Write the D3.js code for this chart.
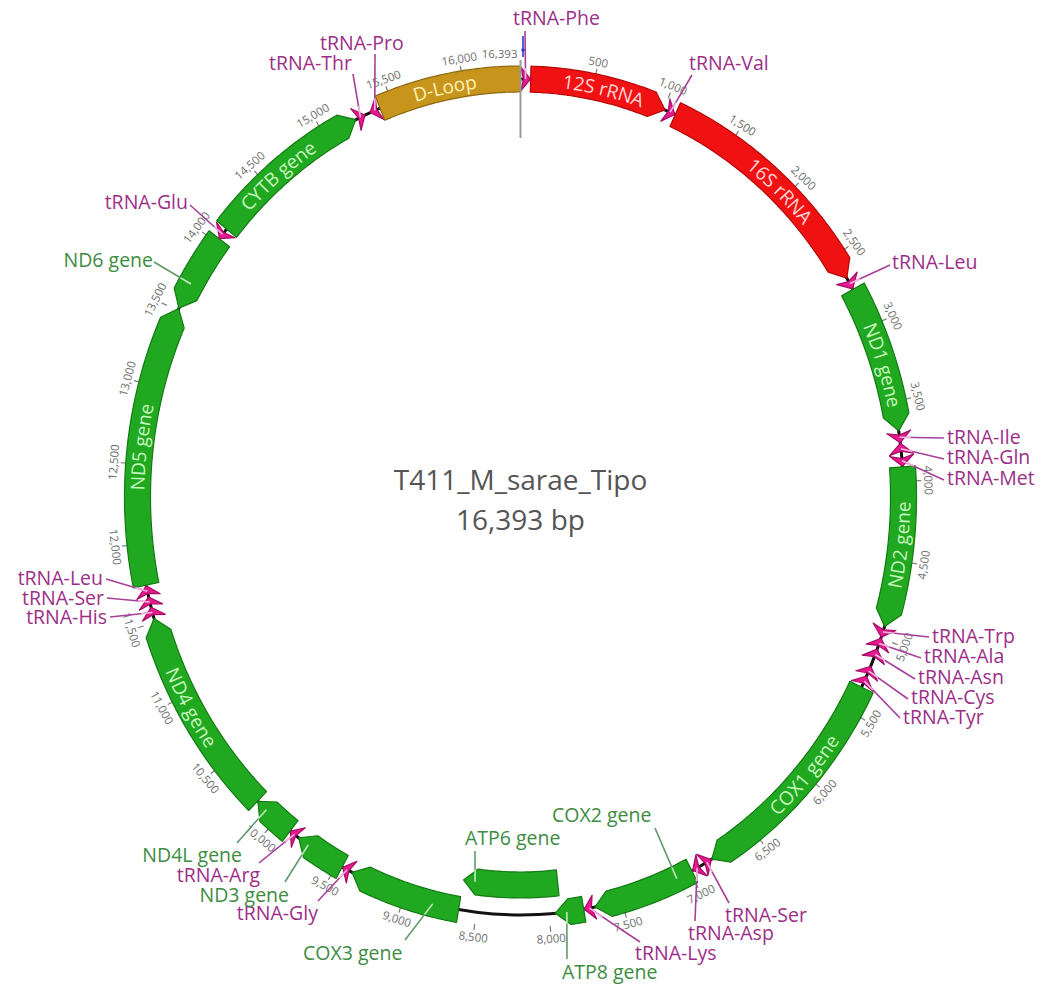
<!DOCTYPE html>
<html>
<head>
<meta charset="utf-8">
<script src="https://cdn.jsdelivr.net/npm/d3@7"></script>
<style>
  html, body { margin: 0; padding: 0; background: #ffffff; }
  svg { display: block; font-family: "Open Sans", "Noto Sans", sans-serif; }
</style>
</head>
<body>
<svg id="map" width="1043" height="985"></svg>
<script>
// ---- sequence ----
const sequenceName = "T411_M_sarae_Tipo";
const sequenceLength = 16393;

// ---- annotated features (bp, 1-based) ----
const featureIds = [
  "trnF", "rrnS", "trnV", "rrnL", "trnL2", "nad1", "trnI", "trnQ", "trnM", "nad2",
  "trnW", "trnA", "trnN", "trnC", "trnY", "cox1", "trnS2", "trnD", "cox2", "trnK",
  "atp8", "atp6", "cox3", "trnG", "nad3", "trnR", "nad4l", "nad4", "trnH", "trnS1",
  "trnL1", "nad5", "nad6", "trnE", "cob", "trnT", "trnP", "dloop"
];
const featureNames = [
  "tRNA-Phe", "12S rRNA", "tRNA-Val", "16S rRNA", "tRNA-Leu", "ND1 gene", "tRNA-Ile", "tRNA-Gln", "tRNA-Met", "ND2 gene",
  "tRNA-Trp", "tRNA-Ala", "tRNA-Asn", "tRNA-Cys", "tRNA-Tyr", "COX1 gene", "tRNA-Ser", "tRNA-Asp", "COX2 gene", "tRNA-Lys",
  "ATP8 gene", "ATP6 gene", "COX3 gene", "tRNA-Gly", "ND3 gene", "tRNA-Arg", "ND4L gene", "ND4 gene", "tRNA-His", "tRNA-Ser",
  "tRNA-Leu", "ND5 gene", "ND6 gene", "tRNA-Glu", "CYTB gene", "tRNA-Thr", "tRNA-Pro", "D-Loop"
];
const featureStarts = [
  1, 69, 1012, 1085, 2662, 2742, 3690, 3762, 3838, 3910,
  4922, 4998, 5070, 5186, 5254, 5330, 6836, 6912, 6986, 7690,
  7764, 7921, 8620, 9388, 9460, 9811, 9880, 10170, 11530, 11600,
  11667, 11740, 13518, 14034, 14110, 15234, 15340, 15413
];
const featureEnds = [
  68, 1010, 1082, 2660, 2738, 3684, 3758, 3832, 3906, 4920,
  4990, 5066, 5142, 5252, 5322, 6832, 6906, 6980, 7686, 7760,
  7960, 8620, 9385, 9456, 9808, 9878, 10168, 11525, 11598, 11665,
  11736, 13515, 14032, 14102, 15232, 15302, 15410, 16393
];
const featureStrands = [
  1, 1, 1, 1, 1, 1, 1, -1, 1, 1,
  1, -1, -1, -1, -1, 1, -1, 1, 1, 1,
  1, 1, 1, 1, 1, 1, 1, 1, 1, 1,
  1, 1, -1, -1, 1, 1, -1, 0
];
const featureKinds = [
  "tRNA", "rRNA", "tRNA", "rRNA", "tRNA", "gene", "tRNA", "tRNA", "tRNA", "gene",
  "tRNA", "tRNA", "tRNA", "tRNA", "tRNA", "gene", "tRNA", "tRNA", "gene", "tRNA",
  "gene", "gene", "gene", "tRNA", "gene", "tRNA", "gene", "gene", "tRNA", "tRNA",
  "tRNA", "gene", "gene", "tRNA", "gene", "tRNA", "tRNA", "misc"
];
// 0 = main ring, 1 = inner lane for overlapping features
const featureTracks = [
  0, 0, 0, 0, 0, 0, 0, 0, 0, 0,
  0, 0, 0, 0, 0, 0, 0, 0, 0, 0,
  0, 1, 0, 0, 0, 0, 0, 0, 0, 0,
  0, 0, 0, 0, 0, 0, 0, 0
];

// ---- ruler ----
const tickValues = [
  500, 1000, 1500, 2000, 2500, 3000, 3500, 4000, 4500, 5000, 5500, 6000, 6500, 7000, 7500, 8000,
  8500, 9000, 9500, 10000, 10500, 11000, 11500, 12000, 12500, 13000, 13500, 14000, 14500, 15000, 15500, 16000
];

// features whose names are written inside the arrow
const innerLabelled = ["rrnS", "rrnL", "nad1", "nad2", "cox1", "nad4", "nad5", "cob", "dloop"];

// callout placement: text anchor point, leader start, optional leader target (bp)
const calloutLayout = {
  trnF:  { x: 513, y: 18,  anchor: "start", lx: 525, ly: 31 },
  trnV:  { x: 689, y: 63,  anchor: "start", lx: 692, ly: 75 },
  trnL2: { x: 892, y: 262, anchor: "start", lx: 890, ly: 265 },
  trnI:  { x: 947, y: 437, anchor: "start", lx: 944, ly: 438 },
  trnQ:  { x: 947, y: 457, anchor: "start", lx: 944, ly: 459 },
  trnM:  { x: 947, y: 478, anchor: "start", lx: 944, ly: 480 },
  trnW:  { x: 932, y: 636, anchor: "start", lx: 929, ly: 637 },
  trnA:  { x: 924, y: 656, anchor: "start", lx: 921, ly: 658 },
  trnN:  { x: 918, y: 677, anchor: "start", lx: 915, ly: 679 },
  trnC:  { x: 911, y: 697, anchor: "start", lx: 908, ly: 699 },
  trnY:  { x: 903, y: 717, anchor: "start", lx: 900, ly: 718 },
  trnS2: { x: 725, y: 915, anchor: "start", lx: 729, ly: 903 },
  trnD:  { x: 688, y: 933, anchor: "start", lx: 695, ly: 921 },
  trnK:  { x: 635, y: 953, anchor: "start", lx: 640, ly: 942 },
  cox2:  { x: 552, y: 815, anchor: "start", lx: 655, ly: 828, bp: 7100 },
  atp6:  { x: 465, y: 838, anchor: "start", lx: 475, ly: 851, bp: 8533 },
  atp8:  { x: 562, y: 972, anchor: "start", lx: 567, ly: 959, bp: 7880 },
  cox3:  { x: 303, y: 953, anchor: "start", lx: 405, ly: 940, bp: 8800 },
  trnG:  { x: 318, y: 913, anchor: "end",   lx: 318, ly: 901 },
  nad3:  { x: 289, y: 895, anchor: "end",   lx: 285, ly: 882, bp: 9730 },
  trnR:  { x: 260, y: 875, anchor: "end",   lx: 259, ly: 863 },
  nad4l: { x: 242, y: 855, anchor: "end",   lx: 237, ly: 843, bp: 10090 },
  trnH:  { x: 107, y: 617, anchor: "end",   lx: 110, ly: 617 },
  trnS1: { x: 104, y: 598, anchor: "end",   lx: 107, ly: 598 },
  trnL1: { x: 103, y: 578, anchor: "end",   lx: 106, ly: 579 },
  nad6:  { x: 153, y: 260, anchor: "end",   lx: 154, ly: 262, bp: 13690 },
  trnE:  { x: 188, y: 202, anchor: "end",   lx: 190, ly: 205 },
  trnT:  { x: 352, y: 63,  anchor: "end",   lx: 353, ly: 74 },
  trnP:  { x: 320, y: 43,  anchor: "start", lx: 375, ly: 54 }
};

// ---- styles ----
const fillByKind   = { gene: "#21a821", rRNA: "#f01212", tRNA: "#e8188f", misc: "#c8951c" };
const strokeByKind = { gene: "#137a13", rRNA: "#b40808", tRNA: "#a50d66", misc: "#8c6812" };
const innerTextByKind = { gene: "#c6f7bc", rRNA: "#ffd4d4", misc: "#fff0b6" };
const calloutColor = { gene: "#3d8c42", tRNA: "#9c2e88" };
const leaderColor  = { gene: "#5f9a68", tRNA: "#a6409a" };
const leaderInner  = { gene: "#b8ecb2", tRNA: "#f6b6de" };

// ---- geometry ----
const cx = 520.5, cy = 497, rx = 383, ry = 418;
const bandHalf = 13, trnaHalf = 12;
const trackOffset = [0, -30];
const angle = d3.scaleLinear().domain([0, sequenceLength]).range([0, 2 * Math.PI]);
const pxPerBp = 2 * Math.PI * 400 / sequenceLength;

function pt(bp, d) {
  const a = angle(bp);
  return [cx + (rx + d) * Math.sin(a), cy - (ry + d) * Math.cos(a)];
}
function arcPts(b0, b1, d) {
  const n = Math.max(2, Math.ceil(Math.abs(b1 - b0) * pxPerBp / 3));
  return d3.range(n + 1).map(i => pt(b0 + (b1 - b0) * i / n, d));
}
function offsetOf(x, y) {
  // radial offset d of a point relative to the ring
  let lo = -150, hi = 150;
  for (let k = 0; k < 40; k++) {
    const m = (lo + hi) / 2;
    const v = ((x - cx) / (rx + m)) ** 2 + ((y - cy) / (ry + m)) ** 2;
    if (v > 1) lo = m; else hi = m;
  }
  return (lo + hi) / 2;
}

const features = featureIds.map((id, i) => ({
  id, name: featureNames[i], start: featureStarts[i], end: featureEnds[i],
  strand: featureStrands[i], kind: featureKinds[i], track: featureTracks[i]
}));
const byId = Object.fromEntries(features.map(f => [f.id, f]));

const line = d3.line();
function featurePath(f) {
  const off = trackOffset[f.track];
  if (f.kind === "tRNA") {
    const h = trnaHalf;
    const tail = f.strand < 0 ? f.end : f.start;
    const tip = f.strand < 0 ? f.start : f.end;
    const notch = tail + (tip - tail) * 0.3;
    return line([pt(tail, off + h), pt(tip, off), pt(tail, off - h), pt(notch, off)]) + "Z";
  }
  const h = bandHalf;
  if (f.strand === 0) {
    return line([...arcPts(f.start, f.end, off + h), ...arcPts(f.end, f.start, off - h)]) + "Z";
  }
  const headBp = Math.min(15 / pxPerBp, (f.end - f.start) * 0.6);
  if (f.strand > 0) {
    const hs = f.end - headBp;
    return line([...arcPts(f.start, hs, off + h), pt(f.end, off), ...arcPts(hs, f.start, off - h)]) + "Z";
  }
  const hs = f.start + headBp;
  return line([pt(f.start, off), ...arcPts(hs, f.end, off + h), ...arcPts(f.end, hs, off - h)]) + "Z";
}

const svg = d3.select("#map");
const defs = svg.append("defs");

// backbone
svg.append("ellipse")
  .attr("cx", cx).attr("cy", cy).attr("rx", rx).attr("ry", ry)
  .attr("fill", "none").attr("stroke", "#111").attr("stroke-width", 3);

// ruler ticks and labels
const fmt = d3.format(",");
const ruler = svg.append("g").attr("class", "ruler");
tickValues.forEach(v => {
  const [x1, y1] = pt(v, bandHalf - 1);
  const [x2, y2] = pt(v, bandHalf + 5);
  ruler.append("line").attr("x1", x1).attr("y1", y1).attr("x2", x2).attr("y2", y2)
    .attr("stroke", "#7a7a7a").attr("stroke-width", 1.2);
  const [tx, ty] = pt(v, bandHalf + 12);
  let deg = angle(v) * 180 / Math.PI;
  if (deg > 90 && deg < 270) deg -= 180;
  ruler.append("text").attr("transform", `translate(${tx},${ty}) rotate(${deg})`)
    .attr("text-anchor", "middle").attr("dy", "0.35em")
    .attr("font-size", 11.5).attr("fill", "#6e6e6e").text(fmt(v));
});

// features
svg.append("g").attr("class", "features")
  .selectAll("path").data(features).join("path")
  .attr("d", featurePath)
  .attr("fill", d => fillByKind[d.kind])
  .attr("stroke", d => strokeByKind[d.kind])
  .attr("stroke-width", 1.2)
  .attr("stroke-linejoin", "round");

// origin marker
{
  const [x1, y1] = pt(0, bandHalf + 6);
  const [x2, y2] = pt(0, -59);
  svg.append("line").attr("x1", x1).attr("y1", y1).attr("x2", x2).attr("y2", y2)
    .attr("stroke", "#9a9a9a").attr("stroke-width", 2);
  const [tx, ty] = pt(0, bandHalf + 12);
  svg.append("text").attr("x", tx - 3).attr("y", ty).attr("dy", "0.35em")
    .attr("text-anchor", "end").attr("font-size", 11.5).attr("fill", "#6e6e6e")
    .text(fmt(sequenceLength));
}

// names written along the arrows
innerLabelled.forEach((id, i) => {
  const f = byId[id];
  const off = trackOffset[f.track];
  const mid = (f.start + f.end) / 2;
  const deg = angle(mid) * 180 / Math.PI;
  const bottom = deg > 90 && deg < 270;
  const span = 2500;
  const pts = bottom ? arcPts(mid + span, mid - span, off) : arcPts(mid - span, mid + span, off);
  defs.append("path").attr("id", "along-" + i).attr("d", line(pts));
  svg.append("text")
    .attr("font-size", 19).attr("fill", innerTextByKind[f.kind]).attr("dy", "0.36em")
    .append("textPath").attr("href", "#along-" + i)
    .attr("startOffset", "50%").attr("text-anchor", "middle")
    .text(f.name);
});

// callouts with leader lines
const callouts = svg.append("g").attr("class", "callouts");
Object.entries(calloutLayout).forEach(([id, c]) => {
  const f = byId[id];
  const off = trackOffset[f.track];
  const target = c.bp !== undefined ? c.bp : (f.start + f.end) / 2;
  const [ex, ey] = pt(target, off);
  const group = f.kind === "tRNA" ? "tRNA" : "gene";
  callouts.append("line").attr("x1", c.lx).attr("y1", c.ly).attr("x2", ex).attr("y2", ey)
    .attr("stroke", leaderColor[group]).attr("stroke-width", 1.6);
  // the part of the leader lying on the feature is drawn light
  const half = f.kind === "tRNA" ? trnaHalf : bandHalf;
  let t = 1;
  for (; t > 0; t -= 0.005) {
    const x = c.lx + (ex - c.lx) * t, y = c.ly + (ey - c.ly) * t;
    if (Math.abs(offsetOf(x, y) - off) > half - 1) break;
  }
  const sx = c.lx + (ex - c.lx) * t, sy = c.ly + (ey - c.ly) * t;
  callouts.append("line").attr("x1", sx).attr("y1", sy).attr("x2", ex).attr("y2", ey)
    .attr("stroke", leaderInner[group]).attr("stroke-width", 1.6);
  callouts.append("text").attr("x", c.x).attr("y", c.y).attr("dy", "0.35em")
    .attr("text-anchor", c.anchor).attr("font-size", 19.5)
    .attr("fill", calloutColor[group]).text(f.name);
});

// cursor mark at the origin
{
  const [ox] = pt(0, 0);
  svg.append("line").attr("x1", ox + 2.5).attr("y1", 36).attr("x2", ox + 2.5).attr("y2", 57)
    .attr("stroke", "#2a3bd0").attr("stroke-width", 1.6);
  svg.append("circle").attr("cx", ox + 2.5).attr("cy", 50).attr("r", 1.8).attr("fill", "#2a3bd0");
}

// title
const title = svg.append("g").attr("text-anchor", "middle").attr("fill", "#555555").attr("font-size", 28);
title.append("text").attr("x", cx).attr("y", 490).text(sequenceName);
title.append("text").attr("x", cx).attr("y", 530).text(fmt(sequenceLength) + " bp");
</script>
</body>
</html>
